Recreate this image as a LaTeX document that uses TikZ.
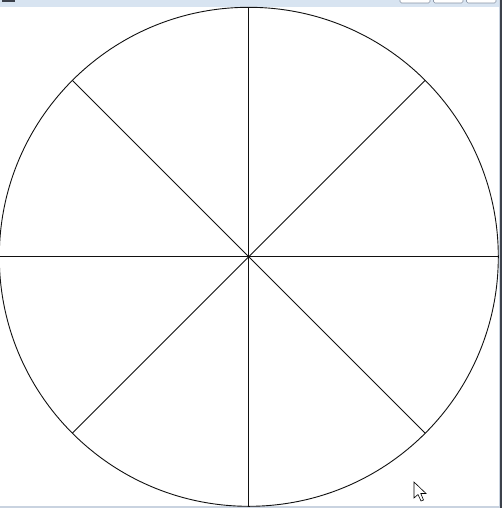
\documentclass[tikz,border=0pt]{standalone}
\definecolor{barblue}{HTML}{D8E4F1}
\definecolor{btnedge}{HTML}{8A95A6}
\definecolor{frameedge}{HTML}{C9D3E0}
\definecolor{framedark}{HTML}{3C414B}
\definecolor{linegray}{HTML}{111111}
\tikzset{
  spoke/.style={draw=linegray, line width=0.9pt},
  rim/.style={draw=linegray, line width=0.9pt},
  winbtn/.style={draw=btnedge, fill=white, line width=0.6pt, rounded corners=1.5pt},
  pointer/.style={draw=black, fill=white, line width=0.6pt, line join=miter}
}
\begin{document}
\begin{tikzpicture}[x=1pt,y=-1pt]
  \useasboundingbox (0,0) rectangle (502,508);
  \fill[white] (0,0) rectangle (502,508);
  % window chrome
  \fill[barblue] (0,0) rectangle (502,7);
  \fill[framedark] (2,0) rectangle (15,2.5);
  \draw[winbtn] (400,-3) rectangle (430,3);
  \draw[winbtn] (433.5,-3) rectangle (463,3);
  \draw[winbtn] (466.5,-3) rectangle (496,3);
  \fill[frameedge] (498.5,0) rectangle (500,508);
  \fill[framedark] (500,0) rectangle (502,508);
  \fill[frameedge] (0,505.5) rectangle (498.5,508);
  % wheel
  \coordinate (c) at (248.8,256.8);
  \draw[rim] (c) circle (249.5);
  \foreach \a in {0,45,...,315} {
    \draw[spoke] (c) -- ++(\a:249.5);
  }
  % mouse pointer
  \draw[pointer] (414,482) -- (414,498) -- (418,494.5) -- (421,501) -- (423.5,500) -- (420.8,493.5) -- (426,493.5) -- cycle;
\end{tikzpicture}
\end{document}
